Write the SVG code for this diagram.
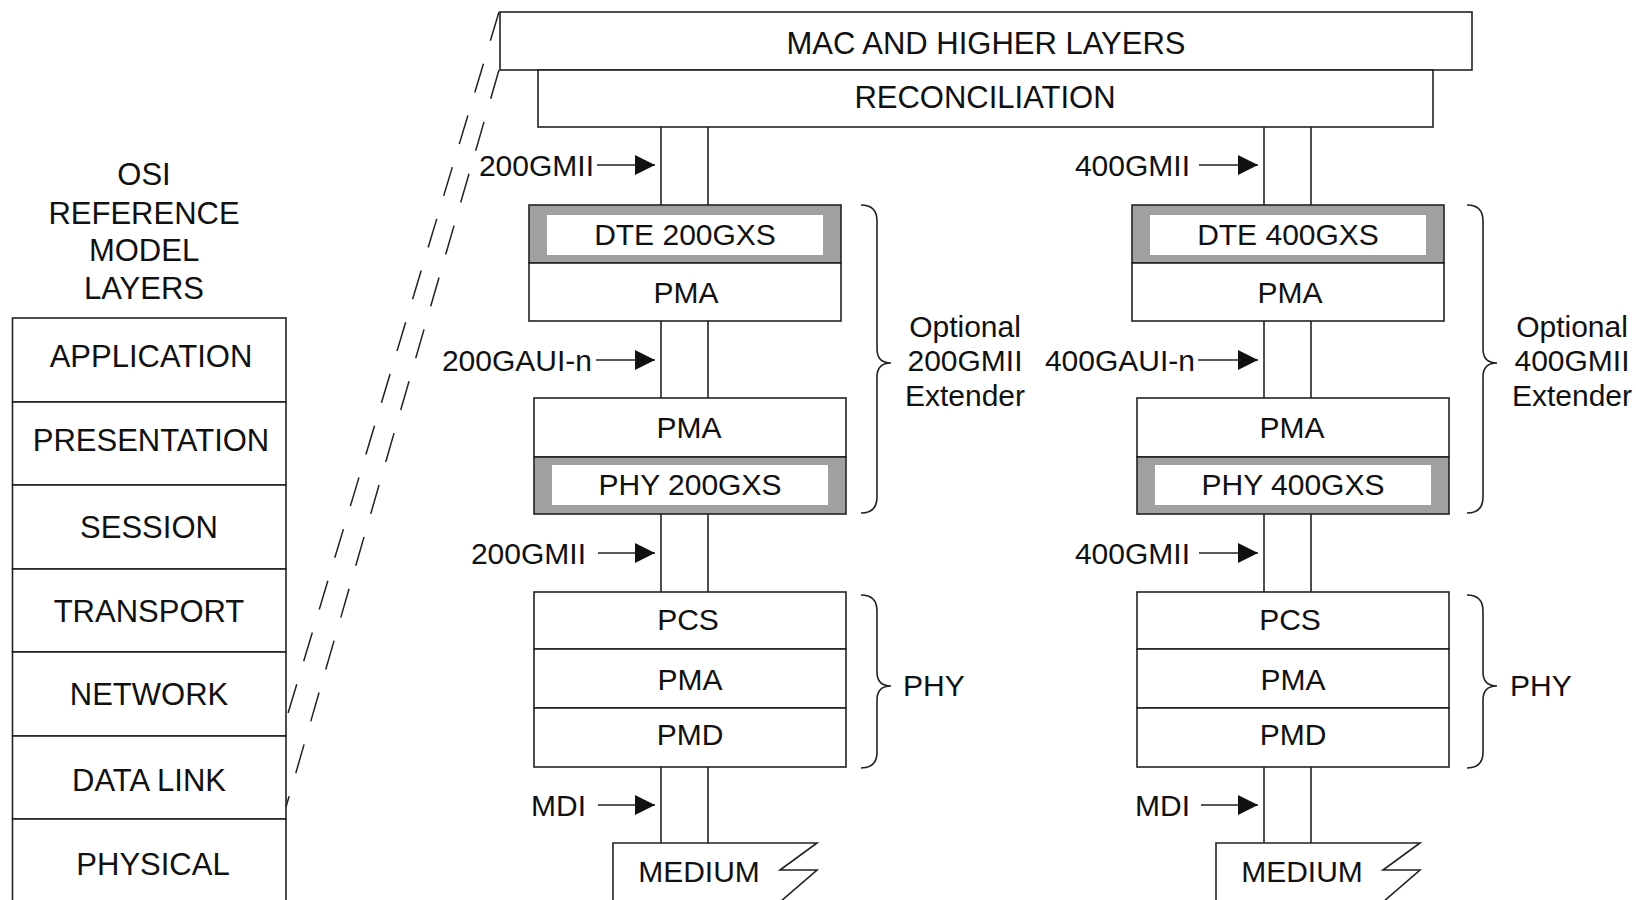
<svg xmlns="http://www.w3.org/2000/svg" width="1636" height="900" viewBox="0 0 1636 900">
<style>
.box{fill:#fff;stroke:#222;stroke-width:1.6}
.grey{fill:#a0a0a0;stroke:#222;stroke-width:1.6}
.inner{fill:#fff;stroke:none}
text{font-family:"Liberation Sans",Arial,Helvetica,sans-serif;font-size:30px;fill:#111}
.big{font-size:31px}
.c{text-anchor:middle}
.e{text-anchor:end}
.ln{stroke:#222;stroke-width:1.6;fill:none}
.dash{stroke:#222;stroke-width:1.5;fill:none;stroke-dasharray:30 24}
.arr{stroke:#222;stroke-width:1.6;fill:none;marker-end:url(#ah)}
</style>
<defs>
<marker id="ah" viewBox="0 0 20 20" refX="20" refY="10" markerWidth="20" markerHeight="20" markerUnits="userSpaceOnUse" orient="auto">
<path d="M0,0 L20,10 L0,20 Z" fill="#111"/>
</marker>
</defs>
<rect width="1636" height="900" fill="#fff"/>

<g id="osi-title" class="big">
<text class="c big" x="144" y="185">OSI</text>
<text class="c big" x="144" y="224">REFERENCE</text>
<text class="c big" x="144" y="261">MODEL</text>
<text class="c big" x="144" y="299">LAYERS</text>
</g>
<g id="osi-application"><rect class="box" x="12.5" y="318" width="273.5" height="84"/><text class="c big" x="151" y="367">APPLICATION</text></g>
<g id="osi-presentation"><rect class="box" x="12.5" y="402" width="273.5" height="83"/><text class="c big" x="151" y="451">PRESENTATION</text></g>
<g id="osi-session"><rect class="box" x="12.5" y="485" width="273.5" height="84"/><text class="c big" x="149" y="538">SESSION</text></g>
<g id="osi-transport"><rect class="box" x="12.5" y="569" width="273.5" height="83"/><text class="c big" x="149" y="622">TRANSPORT</text></g>
<g id="osi-network"><rect class="box" x="12.5" y="652" width="273.5" height="84"/><text class="c big" x="149" y="705">NETWORK</text></g>
<g id="osi-datalink"><rect class="box" x="12.5" y="736" width="273.5" height="83"/><text class="c big" x="149" y="791">DATA LINK</text></g>
<g id="osi-physical"><rect class="box" x="12.5" y="819" width="273.5" height="90"/><text class="c big" x="153" y="875">PHYSICAL</text></g>

<g id="mac"><rect class="box" x="500" y="12" width="972" height="58"/><text class="c big" x="986" y="54">MAC AND HIGHER LAYERS</text></g>
<g id="reconciliation"><rect class="box" x="538" y="70" width="895" height="57"/><text class="c big" x="985" y="108">RECONCILIATION</text></g>

<g id="connectors">
<line class="dash" x1="499" y1="12" x2="286" y2="720"/>
<line class="dash" x1="499" y1="70" x2="286" y2="807"/>
<path class="ln" d="M661,127V205M708,127V205M661,321V398M708,321V398M661,514V592M708,514V592M661,767V843M708,767V843"/>
<path class="ln" d="M1264,127V205M1311,127V205M1264,321V398M1311,321V398M1264,514V592M1311,514V592M1264,767V843M1311,767V843"/>
<line class="arr" x1="597" y1="165" x2="655" y2="165"/>
<line class="arr" x1="1199" y1="165" x2="1258" y2="165"/>
<line class="arr" x1="596" y1="360" x2="655" y2="360"/>
<line class="arr" x1="1198" y1="360" x2="1258" y2="360"/>
<line class="arr" x1="598" y1="553" x2="655" y2="553"/>
<line class="arr" x1="1199" y1="553" x2="1258" y2="553"/>
<line class="arr" x1="598" y1="805" x2="655" y2="805"/>
<line class="arr" x1="1201" y1="805" x2="1258" y2="805"/>
<path class="ln" d="M861,205 Q877,205 877,221 L877,349 Q877,363 891,363 Q877,363 877,377 L877,497 Q877,513 861,513"/>
<path class="ln" d="M861,595 Q877,595 877,611 L877,672 Q877,686 891,686 Q877,686 877,700 L877,752 Q877,768 861,768"/>
<path class="ln" d="M1467,205 Q1483,205 1483,221 L1483,349 Q1483,363 1497,363 Q1483,363 1483,377 L1483,497 Q1483,513 1467,513"/>
<path class="ln" d="M1467,595 Q1483,595 1483,611 L1483,672 Q1483,686 1497,686 Q1483,686 1483,700 L1483,752 Q1483,768 1467,768"/>
</g>

<g id="labels">
<text class="e" x="594" y="176">200GMII</text>
<text class="e" x="1190" y="176">400GMII</text>
<text class="e" x="592" y="371">200GAUI-n</text>
<text class="e" x="1195" y="371">400GAUI-n</text>
<text class="e" x="586" y="564">200GMII</text>
<text class="e" x="1190" y="564">400GMII</text>
<text class="e" x="586" y="816">MDI</text>
<text class="e" x="1190" y="816">MDI</text>
<text class="c" x="965" y="337">Optional</text>
<text class="c" x="965" y="371">200GMII</text>
<text class="c" x="965" y="406">Extender</text>
<text class="c" x="1572" y="337">Optional</text>
<text class="c" x="1572" y="371">400GMII</text>
<text class="c" x="1572" y="406">Extender</text>
<text x="903" y="696">PHY</text>
<text x="1510" y="696">PHY</text>
</g>

<g id="dte200"><rect class="grey" x="529" y="205" width="312" height="58"/><rect class="inner" x="547" y="215" width="276" height="40"/><text class="c" x="685" y="245">DTE 200GXS</text></g>
<g id="pma200a"><rect class="box" x="529" y="263" width="312" height="58"/><text class="c" x="686" y="303">PMA</text></g>
<g id="pma200b"><rect class="box" x="534" y="398" width="312" height="59"/><text class="c" x="689" y="438">PMA</text></g>
<g id="phy200gxs"><rect class="grey" x="534" y="457" width="312" height="57"/><rect class="inner" x="552" y="465" width="276" height="40"/><text class="c" x="690" y="495">PHY 200GXS</text></g>
<g id="pcs200"><rect class="box" x="534" y="592" width="312" height="57"/><text class="c" x="688" y="630">PCS</text></g>
<g id="pma200c"><rect class="box" x="534" y="649" width="312" height="59"/><text class="c" x="690" y="690">PMA</text></g>
<g id="pmd200"><rect class="box" x="534" y="708" width="312" height="59"/><text class="c" x="690" y="745">PMD</text></g>
<g id="medium200"><path class="ln" d="M613,905 L613,843 L817,843 L780,870 L817,870 L780,902"/><text class="c" x="699" y="882">MEDIUM</text></g>

<g id="dte400"><rect class="grey" x="1132" y="205" width="312" height="58"/><rect class="inner" x="1150" y="215" width="276" height="40"/><text class="c" x="1288" y="245">DTE 400GXS</text></g>
<g id="pma400a"><rect class="box" x="1132" y="263" width="312" height="58"/><text class="c" x="1290" y="303">PMA</text></g>
<g id="pma400b"><rect class="box" x="1137" y="398" width="312" height="59"/><text class="c" x="1292" y="438">PMA</text></g>
<g id="phy400gxs"><rect class="grey" x="1137" y="457" width="312" height="57"/><rect class="inner" x="1155" y="465" width="276" height="40"/><text class="c" x="1293" y="495">PHY 400GXS</text></g>
<g id="pcs400"><rect class="box" x="1137" y="592" width="312" height="57"/><text class="c" x="1290" y="630">PCS</text></g>
<g id="pma400c"><rect class="box" x="1137" y="649" width="312" height="59"/><text class="c" x="1293" y="690">PMA</text></g>
<g id="pmd400"><rect class="box" x="1137" y="708" width="312" height="59"/><text class="c" x="1293" y="745">PMD</text></g>
<g id="medium400"><path class="ln" d="M1216,905 L1216,843 L1420,843 L1383,870 L1420,870 L1383,902"/><text class="c" x="1302" y="882">MEDIUM</text></g>
</svg>
